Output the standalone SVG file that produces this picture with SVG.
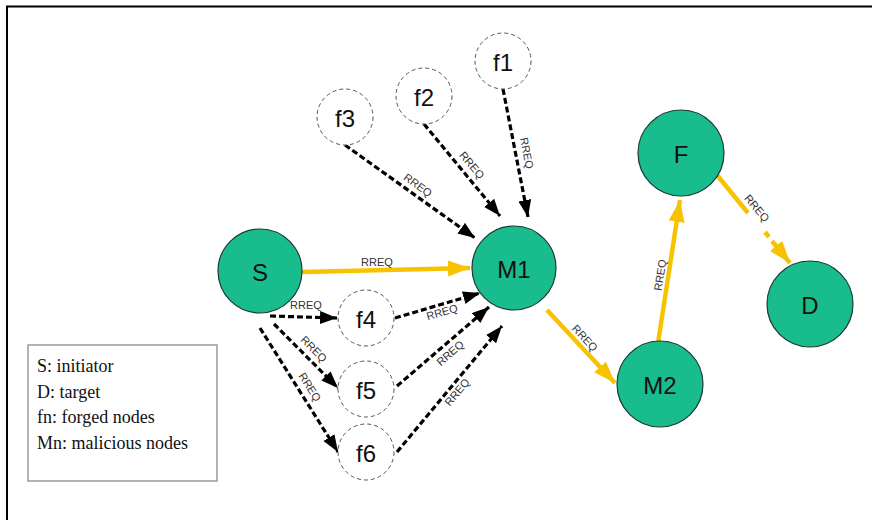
<svg xmlns="http://www.w3.org/2000/svg" width="872" height="520" viewBox="0 0 872 520">
<style>
.frame{stroke:#000;stroke-width:2;fill:none}
.legend{fill:#fff;stroke:#999;stroke-width:1.5}
.lt{font-family:"Liberation Serif",serif;font-size:18px;fill:#111}
.big{fill:#19BD8D;stroke:#1a3a30;stroke-width:1.2}
.forged{fill:#fff;stroke:#555;stroke-width:1;stroke-dasharray:4 3}
.nl{font-family:"Liberation Sans",Arial,sans-serif;font-size:24px;fill:#111;text-anchor:middle;dominant-baseline:central}
.bl{fill:none;stroke:#000;stroke-width:3.2;stroke-dasharray:6 3;marker-end:url(#ab)}
.yl{fill:none;stroke:#F7C300;stroke-width:4.5}
.el{font-family:"Liberation Sans",Arial,sans-serif;font-size:11px;fill:#333;text-anchor:middle;dominant-baseline:central}
</style>
<defs>
<marker id="ab" markerUnits="userSpaceOnUse" markerWidth="18" markerHeight="14" refX="17" refY="6.5" orient="auto"><path d="M0,0 L17,6.5 L0,13 Z" fill="#000"/></marker>
<marker id="ay" markerUnits="userSpaceOnUse" markerWidth="23" markerHeight="17" refX="22" refY="8" orient="auto"><path d="M0,0 L22,8 L0,16 Z" fill="#F7C300"/></marker>
</defs>
<path class="frame" d="M6,6.5 H872 M7,6 V520"/>
<g id="legend">
<rect class="legend" x="28" y="345" width="189" height="136"/>
<text class="lt" x="37" y="372">S: initiator</text>
<text class="lt" x="37" y="398">D: target</text>
<text class="lt" x="37" y="423">fn: forged nodes</text>
<text class="lt" x="37" y="449">Mn: malicious nodes</text>
</g>
<g id="connectors">
<path class="yl" d="M302,272 L470,268" marker-end="url(#ay)"/>
<text class="el" x="377" y="262">RREQ</text>
<path class="bl" d="M503,89 L528,217"/>
<text class="el" transform="translate(527,153) rotate(79)">RREQ</text>
<path class="bl" d="M424,124 L500,216"/>
<text class="el" transform="translate(472,165) rotate(50)">RREQ</text>
<path class="bl" d="M345,145 L475,238"/>
<text class="el" transform="translate(418,185) rotate(36)">RREQ</text>
<path class="bl" d="M270,316 L337,318"/>
<text class="el" x="306" y="305">RREQ</text>
<path class="bl" d="M274,324 L338,388"/>
<text class="el" transform="translate(314,349) rotate(45)">RREQ</text>
<path class="bl" d="M260,328 L338,452"/>
<text class="el" transform="translate(310,387) rotate(58)">RREQ</text>
<path class="bl" d="M395,318 L480,293"/>
<text class="el" transform="translate(442,312) rotate(-16)">RREQ</text>
<path class="bl" d="M397,386 L489,307"/>
<text class="el" transform="translate(450,353) rotate(-41)">RREQ</text>
<path class="bl" d="M397,452 L502,326"/>
<text class="el" transform="translate(457,392) rotate(-50)">RREQ</text>
<path class="yl" d="M547,310 L615,383" marker-end="url(#ay)"/>
<text class="el" transform="translate(585,338) rotate(47)">RREQ</text>
<path class="yl" d="M658,343 L680,200" marker-end="url(#ay)"/>
<text class="el" transform="translate(660,275) rotate(-81)">RREQ</text>
<path class="yl" d="M717,175 L748,213 M765,232 L769,237"/>
<path class="yl" d="M772,241 L790,263" marker-end="url(#ay)"/>
<text class="el" transform="translate(757,208) rotate(50)">RREQ</text>
</g>
<g id="S"><circle class="big" cx="260" cy="271" r="42"/><text class="nl" x="260" y="272">S</text></g>
<g id="M1"><circle class="big" cx="514" cy="268" r="42"/><text class="nl" x="514" y="269">M1</text></g>
<g id="M2"><circle class="big" cx="660" cy="384" r="43"/><text class="nl" x="660" y="385">M2</text></g>
<g id="F"><circle class="big" cx="681" cy="153" r="43"/><text class="nl" x="681" y="154">F</text></g>
<g id="D"><circle class="big" cx="810" cy="304" r="43"/><text class="nl" x="810" y="305">D</text></g>
<g id="f1"><circle class="forged" cx="503" cy="61" r="28"/><text class="nl" x="503" y="62">f1</text></g>
<g id="f2"><circle class="forged" cx="424" cy="96" r="28"/><text class="nl" x="424" y="97">f2</text></g>
<g id="f3"><circle class="forged" cx="345" cy="117" r="28"/><text class="nl" x="345" y="118">f3</text></g>
<g id="f4"><circle class="forged" cx="366" cy="318" r="28"/><text class="nl" x="366" y="319">f4</text></g>
<g id="f5"><circle class="forged" cx="366" cy="389" r="28"/><text class="nl" x="366" y="390">f5</text></g>
<g id="f6"><circle class="forged" cx="366" cy="452" r="28"/><text class="nl" x="366" y="453">f6</text></g>
</svg>
